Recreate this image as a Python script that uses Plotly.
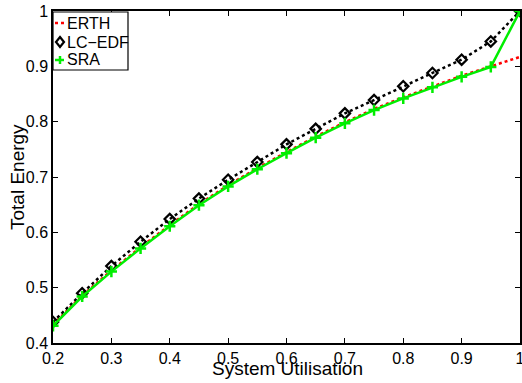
import plotly.graph_objects as go

utilisation = [0.2, 0.25, 0.3, 0.35, 0.4, 0.45, 0.5, 0.55, 0.6, 0.65, 0.7, 0.75, 0.8, 0.85, 0.9, 0.95, 1.0]
erth = [0.433, 0.486, 0.531, 0.573, 0.613, 0.651, 0.685, 0.716, 0.745, 0.773, 0.799, 0.823, 0.844, 0.864, 0.883, 0.900, 0.917]
lc_edf = [0.438, 0.490, 0.539, 0.583, 0.624, 0.661, 0.695, 0.727, 0.759, 0.787, 0.815, 0.839, 0.864, 0.888, 0.912, 0.945, 1.0]
sra = [0.431, 0.484, 0.529, 0.571, 0.611, 0.649, 0.683, 0.714, 0.743, 0.771, 0.797, 0.821, 0.842, 0.862, 0.881, 0.899, 1.0]
series_names = ["ERTH", "LC\u2212EDF", "SRA"]

x_ticks = [0.2, 0.3, 0.4, 0.5, 0.6, 0.7, 0.8, 0.9, 1.0]
x_tick_text = ["0.2", "0.3", "0.4", "0.5", "0.6", "0.7", "0.8", "0.9", "1"]
y_ticks = [0.4, 0.5, 0.6, 0.7, 0.8, 0.9, 1.0]
y_tick_text = ["0.4", "0.5", "0.6", "0.7", "0.8", "0.9", "1"]

FONT = "Liberation Sans, Arial, Helvetica, sans-serif"
RED = "#ff0000"
GREEN = "#00ee00"

W, H = 522, 383
ML, MR, MT, MB = 53, 2, 11, 40
PW, PH = W - ML - MR, H - MT - MB


def px(x):
    return (x - ML) / PW


def py(y):
    return (H - MB - y) / PH


fig = go.Figure()
fig.add_trace(go.Scatter(x=utilisation, y=erth, name=series_names[0], mode="lines",
                         line=dict(color=RED, width=2.5, dash="dot"), showlegend=False))
fig.add_trace(go.Scatter(x=utilisation, y=lc_edf, name=series_names[1], mode="lines+markers",
                         line=dict(color="black", width=2.5, dash="dot"),
                         marker=dict(symbol="diamond-open", size=8, color="black",
                                     line=dict(width=2.2, color="black")), showlegend=False))
fig.add_trace(go.Scatter(x=utilisation, y=sra, name=series_names[2], mode="lines+markers",
                         line=dict(color=GREEN, width=2.5),
                         marker=dict(symbol="cross-thin-open", size=8, color=GREEN,
                                     line=dict(width=2.5, color=GREEN)), showlegend=False))

axis_common = dict(showgrid=False, zeroline=False, showline=True, linecolor="black",
                   linewidth=1.5, mirror="ticks", ticks="inside", ticklen=5,
                   tickcolor="black", tickwidth=1, automargin=False,
                   ticklabeloverflow="allow",
                   tickfont=dict(family=FONT, size=16, color="black"))

fig.update_xaxes(range=[0.2, 1.0], tickvals=x_ticks, ticktext=x_tick_text, **axis_common)
fig.update_yaxes(range=[0.4, 1.0], tickvals=y_ticks, ticktext=y_tick_text, **axis_common)

shapes = []
annotations = []
# axis titles
annotations.append(dict(text="System Utilisation", xref="paper", yref="paper",
                        x=px(287), y=py(368), xanchor="center", yanchor="middle",
                        showarrow=False, font=dict(family=FONT, size=19, color="black")))
annotations.append(dict(text="Total Energy", xref="paper", yref="paper",
                        x=px(17), y=py(177), xanchor="center", yanchor="middle", textangle=-90,
                        showarrow=False, font=dict(family=FONT, size=19, color="black")))

# legend box
shapes.append(dict(type="rect", xref="paper", yref="paper", x0=px(53), x1=px(128),
                   y0=py(70), y1=py(12), line=dict(color="black", width=1.2),
                   fillcolor="white", layer="above"))
# ERTH entry
shapes.append(dict(type="line", xref="paper", yref="paper", x0=px(55), x1=px(64),
                   y0=py(23), y1=py(23), line=dict(color=RED, width=2.5, dash="dot"),
                   layer="above"))
# LC-EDF entry: diamond
cx, cy = 60, 42
shapes.append(dict(type="path", xref="paper", yref="paper", layer="above",
                   path=f"M {px(cx)} {py(cy-5)} L {px(cx+4)} {py(cy)} L {px(cx)} {py(cy+5)} L {px(cx-4)} {py(cy)} Z",
                   line=dict(color="black", width=2.2), fillcolor="rgba(0,0,0,0)"))
# SRA entry: plus with short line
cx, cy = 60, 60
shapes.append(dict(type="line", xref="paper", yref="paper", x0=px(55), x1=px(64),
                   y0=py(cy), y1=py(cy), line=dict(color=GREEN, width=2.5), layer="above"))
shapes.append(dict(type="line", xref="paper", yref="paper", x0=px(cx), x1=px(cx),
                   y0=py(cy - 4), y1=py(cy + 4), line=dict(color=GREEN, width=2.5), layer="above"))

for name, yc in zip(series_names, [23, 42, 60]):
    annotations.append(dict(text=name, xref="paper", yref="paper", x=px(65), y=py(yc),
                            xanchor="left", yanchor="middle", showarrow=False,
                            font=dict(family=FONT, size=16, color="black")))

fig.update_layout(
    width=W, height=H,
    margin=dict(l=ML, r=MR, t=MT, b=MB),
    paper_bgcolor="white", plot_bgcolor="white",
    font=dict(family=FONT, size=16, color="black"),
    showlegend=False,
    shapes=shapes, annotations=annotations,
)

fig.write_html("out.html", config={"displayModeBar": False},
               post_script="document.body.style.margin='0';document.body.style.overflow='hidden';")
